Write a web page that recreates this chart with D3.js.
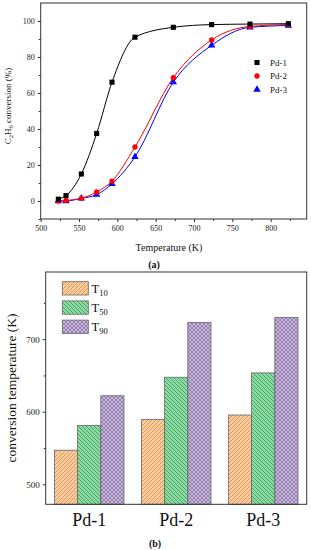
<!DOCTYPE html>
<html>
<head>
<meta charset="utf-8">
<script src="https://cdn.jsdelivr.net/npm/d3@7"></script>
<style>
  body { margin: 0; background: #fff; }
  svg { display: block; font-family: "Liberation Serif", "Times New Roman", serif; }
</style>
</head>
<body>
<div id="chart"></div>
<script>
// ---- data ----
const temps = [523, 533, 553, 573, 593, 623, 673, 723, 773, 823];
const pd1 = [1, 3, 15, 37.5, 66, 91, 96.5, 98, 98.3, 98.5];
const pd2 = [0, 0.3, 1.5, 5, 11, 30, 68.5, 89.5, 97, 98];
const pd3 = [0, 0, 1.5, 3.5, 9.5, 24.5, 66, 86.5, 96.5, 97.5];
const seriesNames = ["Pd-1", "Pd-2", "Pd-3"];

const samples = ["Pd-1", "Pd-2", "Pd-3"];
const tLabels = ["10", "50", "90"];
const t10 = [547, 589.5, 595.5];
const t50 = [581, 647.5, 653.5];
const t90 = [622, 723, 730];

const xTicksA = [500, 550, 600, 650, 700, 750, 800];
const yTicksA = [0, 20, 40, 60, 80, 100];
const yTicksB = [500, 600, 700];

const W = 311, H = 550;
const serif = "Liberation Serif";
const svg = d3.select("#chart").append("svg").attr("width", W).attr("height", H);
const axisCol = "#333";

// ---------- (a) conversion curves ----------
const a = { left: 40.7, right: 306.7, top: 3, bottom: 219 };
const x = d3.scaleLinear().domain([500, 847]).range([a.left, a.right]);
const y = d3.scaleLinear().domain([-10, 110]).range([a.bottom, a.top]);

const series = [
  { name: seriesNames[0], vals: pd1, color: "#000000", shape: d3.symbolSquare, size: 26 },
  { name: seriesNames[1], vals: pd2, color: "#ff0000", shape: d3.symbolCircle, size: 22 },
  { name: seriesNames[2], vals: pd3, color: "#0000ff", shape: d3.symbolTriangle, size: 24 }
];

const gA = svg.append("g");

// minor ticks
gA.append("g").attr("transform", `translate(0,${a.bottom})`)
  .call(d3.axisBottom(x).tickValues([525, 575, 625, 675, 725, 775, 825]).tickSize(2).tickFormat(""))
  .call(g => g.select(".domain").remove())
  .selectAll("line").attr("stroke", axisCol);
gA.append("g").attr("transform", `translate(${a.left},0)`)
  .call(d3.axisLeft(y).tickValues([-10, 10, 30, 50, 70, 90]).tickSize(2).tickFormat(""))
  .call(g => g.select(".domain").remove())
  .selectAll("line").attr("stroke", axisCol);

const xAxA = gA.append("g").attr("transform", `translate(0,${a.bottom})`)
  .call(d3.axisBottom(x).tickValues(xTicksA).tickSize(3).tickPadding(3));
const yAxA = gA.append("g").attr("transform", `translate(${a.left},0)`)
  .call(d3.axisLeft(y).tickValues(yTicksA).tickSize(3).tickPadding(3));
[xAxA, yAxA].forEach(ax => {
  ax.attr("font-family", serif);
  ax.select(".domain").remove();
  ax.selectAll("line").attr("stroke", axisCol);
  ax.selectAll("text").attr("font-size", 8).attr("fill", "#222");
});

gA.append("rect").attr("x", a.left).attr("y", a.top)
  .attr("width", a.right - a.left).attr("height", a.bottom - a.top)
  .attr("fill", "none").attr("stroke", axisCol).attr("stroke-width", 1);

const line = d3.line().x((d, i) => x(temps[i])).y(d => y(d)).curve(d3.curveMonotoneX);

series.slice().reverse().forEach(s => {
  gA.append("path").attr("d", line(s.vals)).attr("fill", "none")
    .attr("stroke", s.color).attr("stroke-width", 1);
});
series.slice().reverse().forEach(s => {
  gA.selectAll(null).data(s.vals).join("path")
    .attr("transform", (d, i) => `translate(${x(temps[i])},${y(d)})`)
    .attr("d", d3.symbol().type(s.shape).size(s.size))
    .attr("fill", s.color);
});

// legend
series.forEach((s, i) => {
  const ly = 62.5 + i * 13.5;
  gA.append("path").attr("transform", `translate(257,${ly})`)
    .attr("d", d3.symbol().type(s.shape).size(s.size)).attr("fill", s.color);
  gA.append("text").attr("x", 270).attr("y", ly + 3.2).attr("font-size", 9)
    .attr("fill", "#111").text(s.name);
});

// axis titles
gA.append("text").attr("x", 169).attr("y", 251).attr("text-anchor", "middle")
  .attr("font-size", 10).attr("fill", "#111").text("Temperature (K)");
gA.append("text").attr("x", 154).attr("y", 268).attr("text-anchor", "middle")
  .attr("font-size", 10).attr("font-weight", "bold").attr("fill", "#111").text("(a)");

const yt = gA.append("text").attr("transform", "translate(11,106) rotate(-90)")
  .attr("text-anchor", "middle").attr("font-size", 9).attr("fill", "#111");
yt.append("tspan").text("C");
yt.append("tspan").attr("font-size", 6.5).attr("dy", 2).text("2");
yt.append("tspan").attr("dy", -2).text("H");
yt.append("tspan").attr("font-size", 6.5).attr("dy", 2).text("6");
yt.append("tspan").attr("dy", -2).text(" conversion (%)");

// ---------- (b) characteristic temperatures ----------
const b = { left: 45.7, right: 306.7, top: 272, bottom: 504.3 };
const x0 = d3.scaleBand().domain(samples).range([b.left, b.right])
  .paddingInner(0.2).paddingOuter(0.1);
const x1 = d3.scaleBand().domain(tLabels).range([0, x0.bandwidth()]);
const yb = d3.scaleLinear().domain([472.5, 792.5]).range([b.bottom, b.top]);

const defs = svg.append("defs");
function hatch(id, fill, stroke, dirs) {
  const p = defs.append("pattern").attr("id", id).attr("patternUnits", "userSpaceOnUse")
    .attr("width", 4).attr("height", 4);
  p.append("rect").attr("width", 4).attr("height", 4).attr("fill", fill);
  if (dirs.includes("/"))
    p.append("path").attr("d", "M-1,1 L1,-1 M0,4 L4,0 M3,5 L5,3")
      .attr("stroke", stroke).attr("stroke-width", 0.7);
  if (dirs.includes("\\"))
    p.append("path").attr("d", "M-1,3 L1,5 M0,0 L4,4 M3,-1 L5,1")
      .attr("stroke", stroke).attr("stroke-width", 0.7);
}
hatch("h10", "#ffca95", "#b98a62", "/");
hatch("h50", "#86dd9f", "#3f7f55", "\\");
hatch("h90", "#c9b5e0", "#7d6f93", "/\\");

const tSeries = [
  { key: tLabels[0], vals: t10, fill: "url(#h10)" },
  { key: tLabels[1], vals: t50, fill: "url(#h50)" },
  { key: tLabels[2], vals: t90, fill: "url(#h90)" }
];

const gB = svg.append("g");

gB.append("g").attr("transform", `translate(${b.left},0)`)
  .call(d3.axisLeft(yb).tickValues([550, 650, 750]).tickSize(2).tickFormat(""))
  .call(g => g.select(".domain").remove())
  .selectAll("line").attr("stroke", axisCol);
const yAxB = gB.append("g").attr("transform", `translate(${b.left},0)`)
  .call(d3.axisLeft(yb).tickValues(yTicksB).tickSize(3).tickPadding(3))
  .attr("font-family", serif);
yAxB.select(".domain").remove();
yAxB.selectAll("line").attr("stroke", axisCol);
yAxB.selectAll("text").attr("font-size", 9).attr("fill", "#222");

samples.forEach((smp, si) => {
  tSeries.forEach(ts => {
    gB.append("rect")
      .attr("x", x0(smp) + x1(ts.key))
      .attr("y", yb(ts.vals[si]))
      .attr("width", x1.bandwidth())
      .attr("height", b.bottom - yb(ts.vals[si]))
      .attr("fill", ts.fill).attr("stroke", "#666").attr("stroke-width", 0.8);
  });
});

gB.append("rect").attr("x", b.left).attr("y", b.top)
  .attr("width", b.right - b.left).attr("height", b.bottom - b.top)
  .attr("fill", "none").attr("stroke", axisCol).attr("stroke-width", 1);

// category labels
const xAxB = gB.append("g").attr("transform", `translate(0,${b.bottom})`)
  .call(d3.axisBottom(x0).tickSize(0).tickPadding(9))
  .attr("font-family", serif);
xAxB.select(".domain").remove();
xAxB.selectAll("text").attr("font-size", 18).attr("fill", "#111");

// legend
tSeries.forEach((ts, i) => {
  const ly = 281.7 + i * 19.2;
  gB.append("rect").attr("x", 62.3).attr("y", ly).attr("width", 26).attr("height", 13.3)
    .attr("fill", ts.fill).attr("stroke", "#666").attr("stroke-width", 0.8);
  const t = gB.append("text").attr("x", 91.5).attr("y", ly + 11).attr("font-size", 12.5)
    .attr("fill", "#111");
  t.append("tspan").text("T");
  t.append("tspan").attr("font-size", 8.5).attr("dy", 3).text(ts.key);
});

gB.append("text").attr("transform", "translate(16,388) rotate(-90)")
  .attr("text-anchor", "middle").attr("font-size", 13.5).attr("fill", "#111")
  .text("conversion temperature (K)");
gB.append("text").attr("x", 155).attr("y", 547).attr("text-anchor", "middle")
  .attr("font-size", 10).attr("font-weight", "bold").attr("fill", "#111").text("(b)");
</script>
</body>
</html>
